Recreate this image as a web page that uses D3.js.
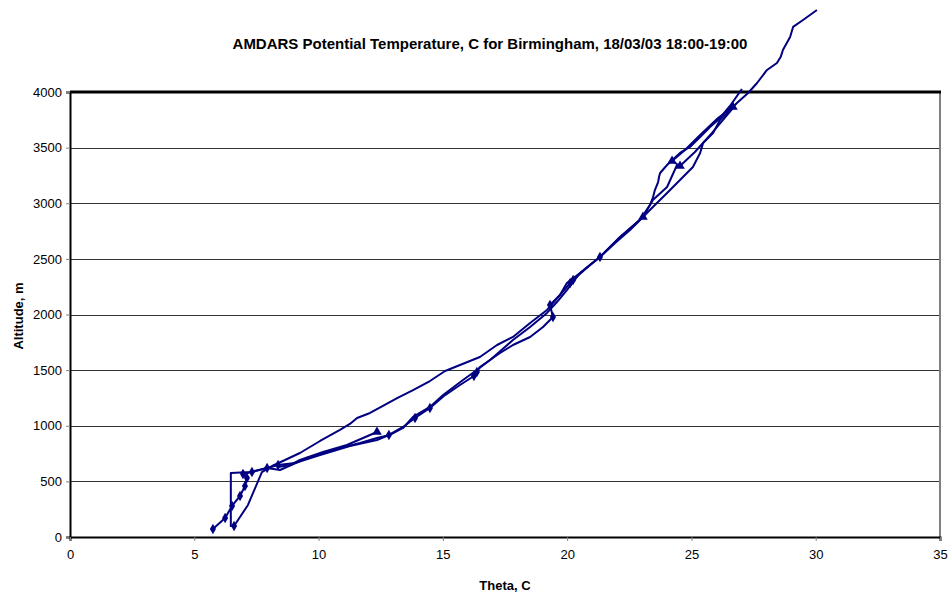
<!DOCTYPE html>
<html><head><meta charset="utf-8">
<script src="https://cdn.jsdelivr.net/npm/d3@7"></script>
<style>body{margin:0;background:#fff}svg{display:block}text{font-family:"Liberation Sans",Arial,sans-serif}</style>
</head><body><svg id="c" width="950" height="595"></svg>
<script>
const title = "AMDARS Potential Temperature, C for Birmingham, 18/03/03 18:00-19:00";
const xLabel = "Theta, C";
const yLabel = "Altitude, m";
const xTicks = [0,5,10,15,20,25,30,35];
const yTicks = [0,500,1000,1500,2000,2500,3000,3500,4000];

// [theta C, altitude m]
const ascent1 = [[6.60,99],[7.16,288],[7.72,584],[8.13,638],[8.65,692],[9.25,755],[10.06,863],[10.86,962],[11.26,1016],[11.55,1070],[12.07,1115],[12.59,1178],[13.16,1249],[13.80,1321],[14.48,1402],[15.09,1492],[15.69,1546],[16.49,1618],[17.18,1726],[17.82,1798],[18.51,1924],[19.19,2041],[19.71,2175],[19.99,2283],[20.52,2373],[21.32,2517],[21.93,2643],[22.53,2760],[22.93,2849],[23.33,2984],[23.45,3050],[23.53,3119],[23.66,3191],[23.70,3240],[23.74,3272],[24.02,3344],[24.54,3452],[24.94,3506],[25.35,3596],[25.75,3686],[26.07,3748],[26.55,3874],[27.03,4027]];
const ascent2 = [[6.47,90],[6.47,575],[7.24,584],[7.93,620],[8.45,602],[9.53,710],[10.58,782],[11.67,845],[12.35,890],[12.87,917],[13.40,980],[13.80,1079],[14.48,1169],[15.01,1276],[15.81,1411],[16.37,1501],[16.90,1591],[17.82,1771],[18.51,1888],[19.19,2014],[19.59,2112],[19.99,2220],[20.52,2373],[21.32,2517],[22.13,2697],[22.93,2849],[23.45,2966],[24.02,3092],[24.54,3209],[25.06,3326],[25.35,3452],[25.47,3542],[25.87,3632],[26.15,3748],[26.83,3901],[27.28,3991],[27.64,4081],[28.04,4198],[28.44,4261],[28.60,4320],[28.68,4378],[28.97,4495],[29.09,4585],[29.49,4647],[30.05,4737]];
const loopTop = [[26.67,3865],[26.07,3766],[25.35,3614],[24.74,3479],[24.22,3380],[24.54,3335],[25.14,3461],[25.83,3632],[26.67,3856]];
const descent = [[24.42,3344],[24.02,3146],[23.45,3029],[23.05,2876],[22.13,2697],[21.32,2517],[20.92,2445],[20.24,2310],[20.12,2283],[19.71,2175],[19.31,2085],[19.43,1978],[19.03,1888],[18.51,1798],[17.82,1726],[17.30,1654],[16.49,1528],[16.37,1483],[16.25,1447],[15.69,1366],[15.09,1276],[14.48,1160],[13.88,1070],[13.40,989],[12.83,917],[12.35,872],[11.26,818],[10.06,737],[9.05,665],[8.37,647],[7.93,620],[7.32,584],[6.96,566],[7.12,530],[7.04,458],[6.84,369],[6.52,279],[6.24,171],[5.75,72]];
const shortLeg = [[8.37,629],[8.85,647],[9.25,692],[10.18,764],[11.14,827],[11.79,890],[12.35,944]];
const series = [ascent1, ascent2, loopTop, descent, shortLeg];

const diamondPts = [[6.60,99],[21.32,2517],[20.24,2310],[20.12,2283],[19.31,2085],[19.43,1978],[16.37,1483],[16.25,1447],[14.48,1160],[13.88,1070],[12.83,917],[8.37,647],[7.93,620],[7.32,584],[6.96,566],[7.12,530],[7.04,458],[6.84,369],[6.52,279],[6.24,171],[5.75,72]];
const trianglePts = [[26.67,3865],[24.22,3380],[24.54,3335],[23.05,2876],[12.35,944]];

const svg = d3.select("#c");
const L=70,R=940,T=92,B=537;
const x = d3.scaleLinear().domain([0,35]).range([L,R]);
const y = d3.scaleLinear().domain([0,4000]).range([B,T]);
const navy = "#000080";
const FF = "Liberation Sans, Arial, sans-serif";

// gridlines
svg.append("g").selectAll("line").data(yTicks.filter(v=>v>0&&v<4000)).join("line")
  .attr("x1",L).attr("x2",R).attr("y1",d=>Math.round(y(d))+0.5).attr("y2",d=>Math.round(y(d))+0.5)
  .attr("stroke","#333").attr("stroke-width",1);

// plot border
svg.append("line").attr("x1",R).attr("x2",R).attr("y1",T).attr("y2",B).attr("stroke","#808080").attr("stroke-width",2);
svg.append("line").attr("x1",L).attr("x2",R+1).attr("y1",T).attr("y2",T).attr("stroke","#000").attr("stroke-width",3);

// axes
const ya = svg.append("g").attr("transform",`translate(${L},0)`)
  .call(d3.axisLeft(y).tickValues(yTicks).tickFormat(d3.format("d")).tickSize(4).tickPadding(4));
ya.select(".domain").attr("stroke","#000").attr("stroke-width",2);
ya.selectAll(".tick line").attr("stroke","#808080");
ya.selectAll(".tick text").attr("font-size",13).attr("fill","#000").attr("font-family",FF);

const xa = svg.append("g").attr("transform",`translate(0,${B})`)
  .call(d3.axisBottom(x).tickValues(xTicks).tickSize(4).tickPadding(9));
xa.select(".domain").attr("stroke","#000").attr("stroke-width",2);
xa.selectAll(".tick line").attr("stroke","#808080");
xa.selectAll(".tick text").attr("font-size",13).attr("fill","#000").attr("font-family",FF);

// lines
const line = d3.line().x(d=>x(d[0])).y(d=>y(d[1]));
svg.append("g").selectAll("path").data(series).join("path")
  .attr("d",line).attr("fill","none").attr("stroke",navy).attr("stroke-width",2).attr("stroke-linejoin","round");

// markers
svg.append("g").selectAll("path").data(diamondPts).join("path")
  .attr("d",d3.symbol(d3.symbolDiamond,32))
  .attr("transform",d=>`translate(${x(d[0])},${y(d[1])})`).attr("fill",navy);
svg.append("g").selectAll("path").data(trianglePts).join("path")
  .attr("d",d3.symbol(d3.symbolTriangle,40))
  .attr("transform",d=>`translate(${x(d[0])},${y(d[1])}) rotate(-120)`).attr("fill",navy);

// texts
svg.append("text").attr("x",490).attr("y",49).attr("text-anchor","middle")
  .attr("font-size",15).attr("font-weight","bold").text(title);
svg.append("text").attr("x",505).attr("y",590).attr("text-anchor","middle")
  .attr("font-size",13).attr("font-weight","bold").text(xLabel);
svg.append("text").attr("transform","translate(23,316) rotate(-90)").attr("text-anchor","middle")
  .attr("font-size",13).attr("font-weight","bold").text(yLabel);
</script></body></html>
